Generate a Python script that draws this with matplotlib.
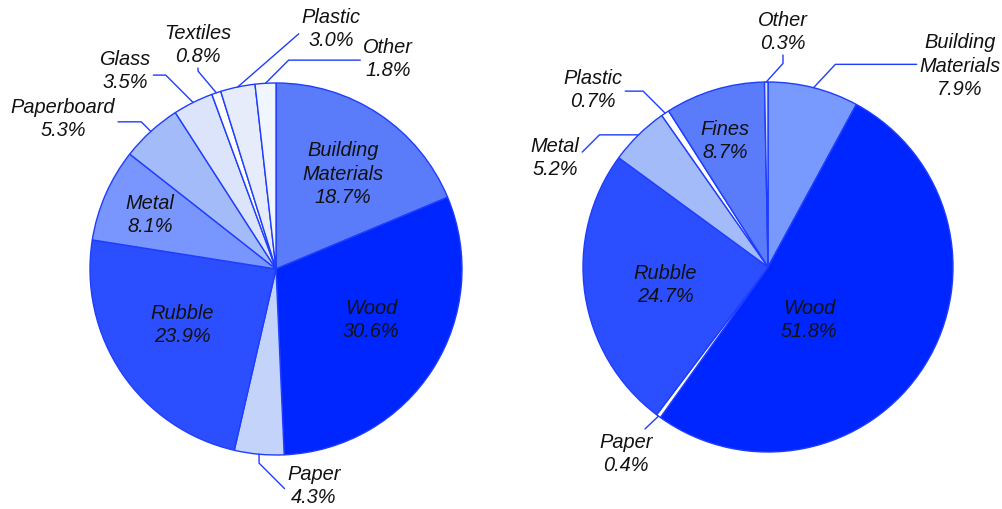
import matplotlib
matplotlib.use("Agg")
import matplotlib.pyplot as plt
import numpy as np

# Left pie data (clockwise from 12 o'clock)
left_names = ["Building\nMaterials", "Wood", "Paper", "Rubble", "Metal",
              "Paperboard", "Glass", "Textiles", "Plastic", "Other"]
left_values = [18.7, 30.6, 4.3, 23.9, 8.1, 5.3, 3.5, 0.8, 3.0, 1.8]

# Right pie data (clockwise from 12 o'clock)
right_names = ["Building\nMaterials", "Wood", "Paper", "Rubble", "Metal",
               "Plastic", "Fines", "Other"]
right_values = [7.9, 51.8, 0.4, 24.7, 5.2, 0.7, 8.7, 0.3]

# colours
left_colors = ["#5a7cfb", "#0026ff", "#c3d3fa", "#2b4fff", "#7896fd",
               "#a3bbf9", "#dbe4fa", "#ffffff", "#e6ecfa", "#f1f5fd"]
right_colors = ["#7899fd", "#0026ff", "#ffffff", "#2b4fff", "#a3bbf9",
                "#ffffff", "#5a7cfb", "#dbe4fa"]
EDGE = "#1f3dff"

W, H = 1003, 510
plt.rcParams['font.family'] = ['Liberation Sans', 'DejaVu Sans']

fig = plt.figure(figsize=(W / 100, H / 100), dpi=100)
ax = fig.add_axes([0, 0, 1, 1])


def px(x, y):
    # picture pixel (y down) -> axes data (y up)
    return (x, H - y)


# label layout: inside labels -> position only
# outside labels -> position, relpos, connection style
left_layout = [
    {"pos": (343, 174)},
    {"pos": (371, 320)},
    {"pos": (314, 486), "rel": (0, 0.35), "conn": "angle,angleA=135,angleB=90,rad=0"},
    {"pos": (182, 325)},
    {"pos": (150, 215)},
    {"pos": (63, 119), "rel": (1, 0.41), "conn": "angle,angleA=0,angleB=135,rad=0"},
    {"pos": (125, 71), "rel": (1, 0.38), "conn": "angle,angleA=0,angleB=135,rad=0"},
    {"pos": (198, 45), "rel": (0.5, 0), "conn": "angle,angleA=90,angleB=-50,rad=0"},
    {"pos": (331, 29), "rel": (0, 0.42), "conn": "arc3,rad=0"},
    {"pos": (388, 59), "rel": (0, 0.45), "conn": "angle,angleA=0,angleB=45,rad=0"},
]
right_layout = [
    {"pos": (960, 66), "rel": (0, 0.51), "conn": "angle,angleA=0,angleB=47,rad=0"},
    {"pos": (809, 320)},
    {"pos": (626, 454), "rel": (0.8, 1), "conn": "arc3,rad=0"},
    {"pos": (665, 285)},
    {"pos": (555, 158), "rel": (1, 0.55), "conn": "angle,angleA=45,angleB=0,rad=0"},
    {"pos": (593, 90), "rel": (1, 0.45), "conn": "angle,angleA=0,angleB=-45,rad=0"},
    {"pos": (725, 141)},
    {"pos": (783, 32), "rel": (0.5, 0), "conn": "angle,angleA=90,angleB=48,rad=0"},
]

TEXT = dict(ha='center', va='center', fontsize=14.4, style='italic',
            color='#111111', linespacing=1.3)


def draw_pie(values, names, colors, layout, center, radius):
    wedges, _ = ax.pie(values, colors=colors, startangle=90, counterclock=False,
                       center=px(*center), radius=radius, frame=True,
                       wedgeprops=dict(edgecolor=EDGE, linewidth=1.0))
    for w, name, val, lay in zip(wedges, names, values, layout):
        label = f"{name}\n{val:.1f}%"
        x, y = px(*lay["pos"])
        if "conn" not in lay:
            ax.text(x, y, label, **TEXT)
            continue
        ang = np.deg2rad((w.theta1 + w.theta2) / 2)
        cx, cy = w.center
        anchor = (cx + radius * np.cos(ang), cy + radius * np.sin(ang))
        ax.annotate(label, xy=anchor, xytext=(x, y), **TEXT,
                    arrowprops=dict(arrowstyle='-', color=EDGE, lw=1.0,
                                    relpos=lay["rel"], shrinkA=0, shrinkB=0,
                                    connectionstyle=lay["conn"]))


draw_pie(left_values, left_names, left_colors, left_layout, (276, 270), 186)
draw_pie(right_values, right_names, right_colors, right_layout, (768, 268), 185)

ax.set_xlim(0, W)
ax.set_ylim(0, H)
ax.set_aspect('equal')
ax.axis('off')

fig.savefig("out.png", dpi=100)
